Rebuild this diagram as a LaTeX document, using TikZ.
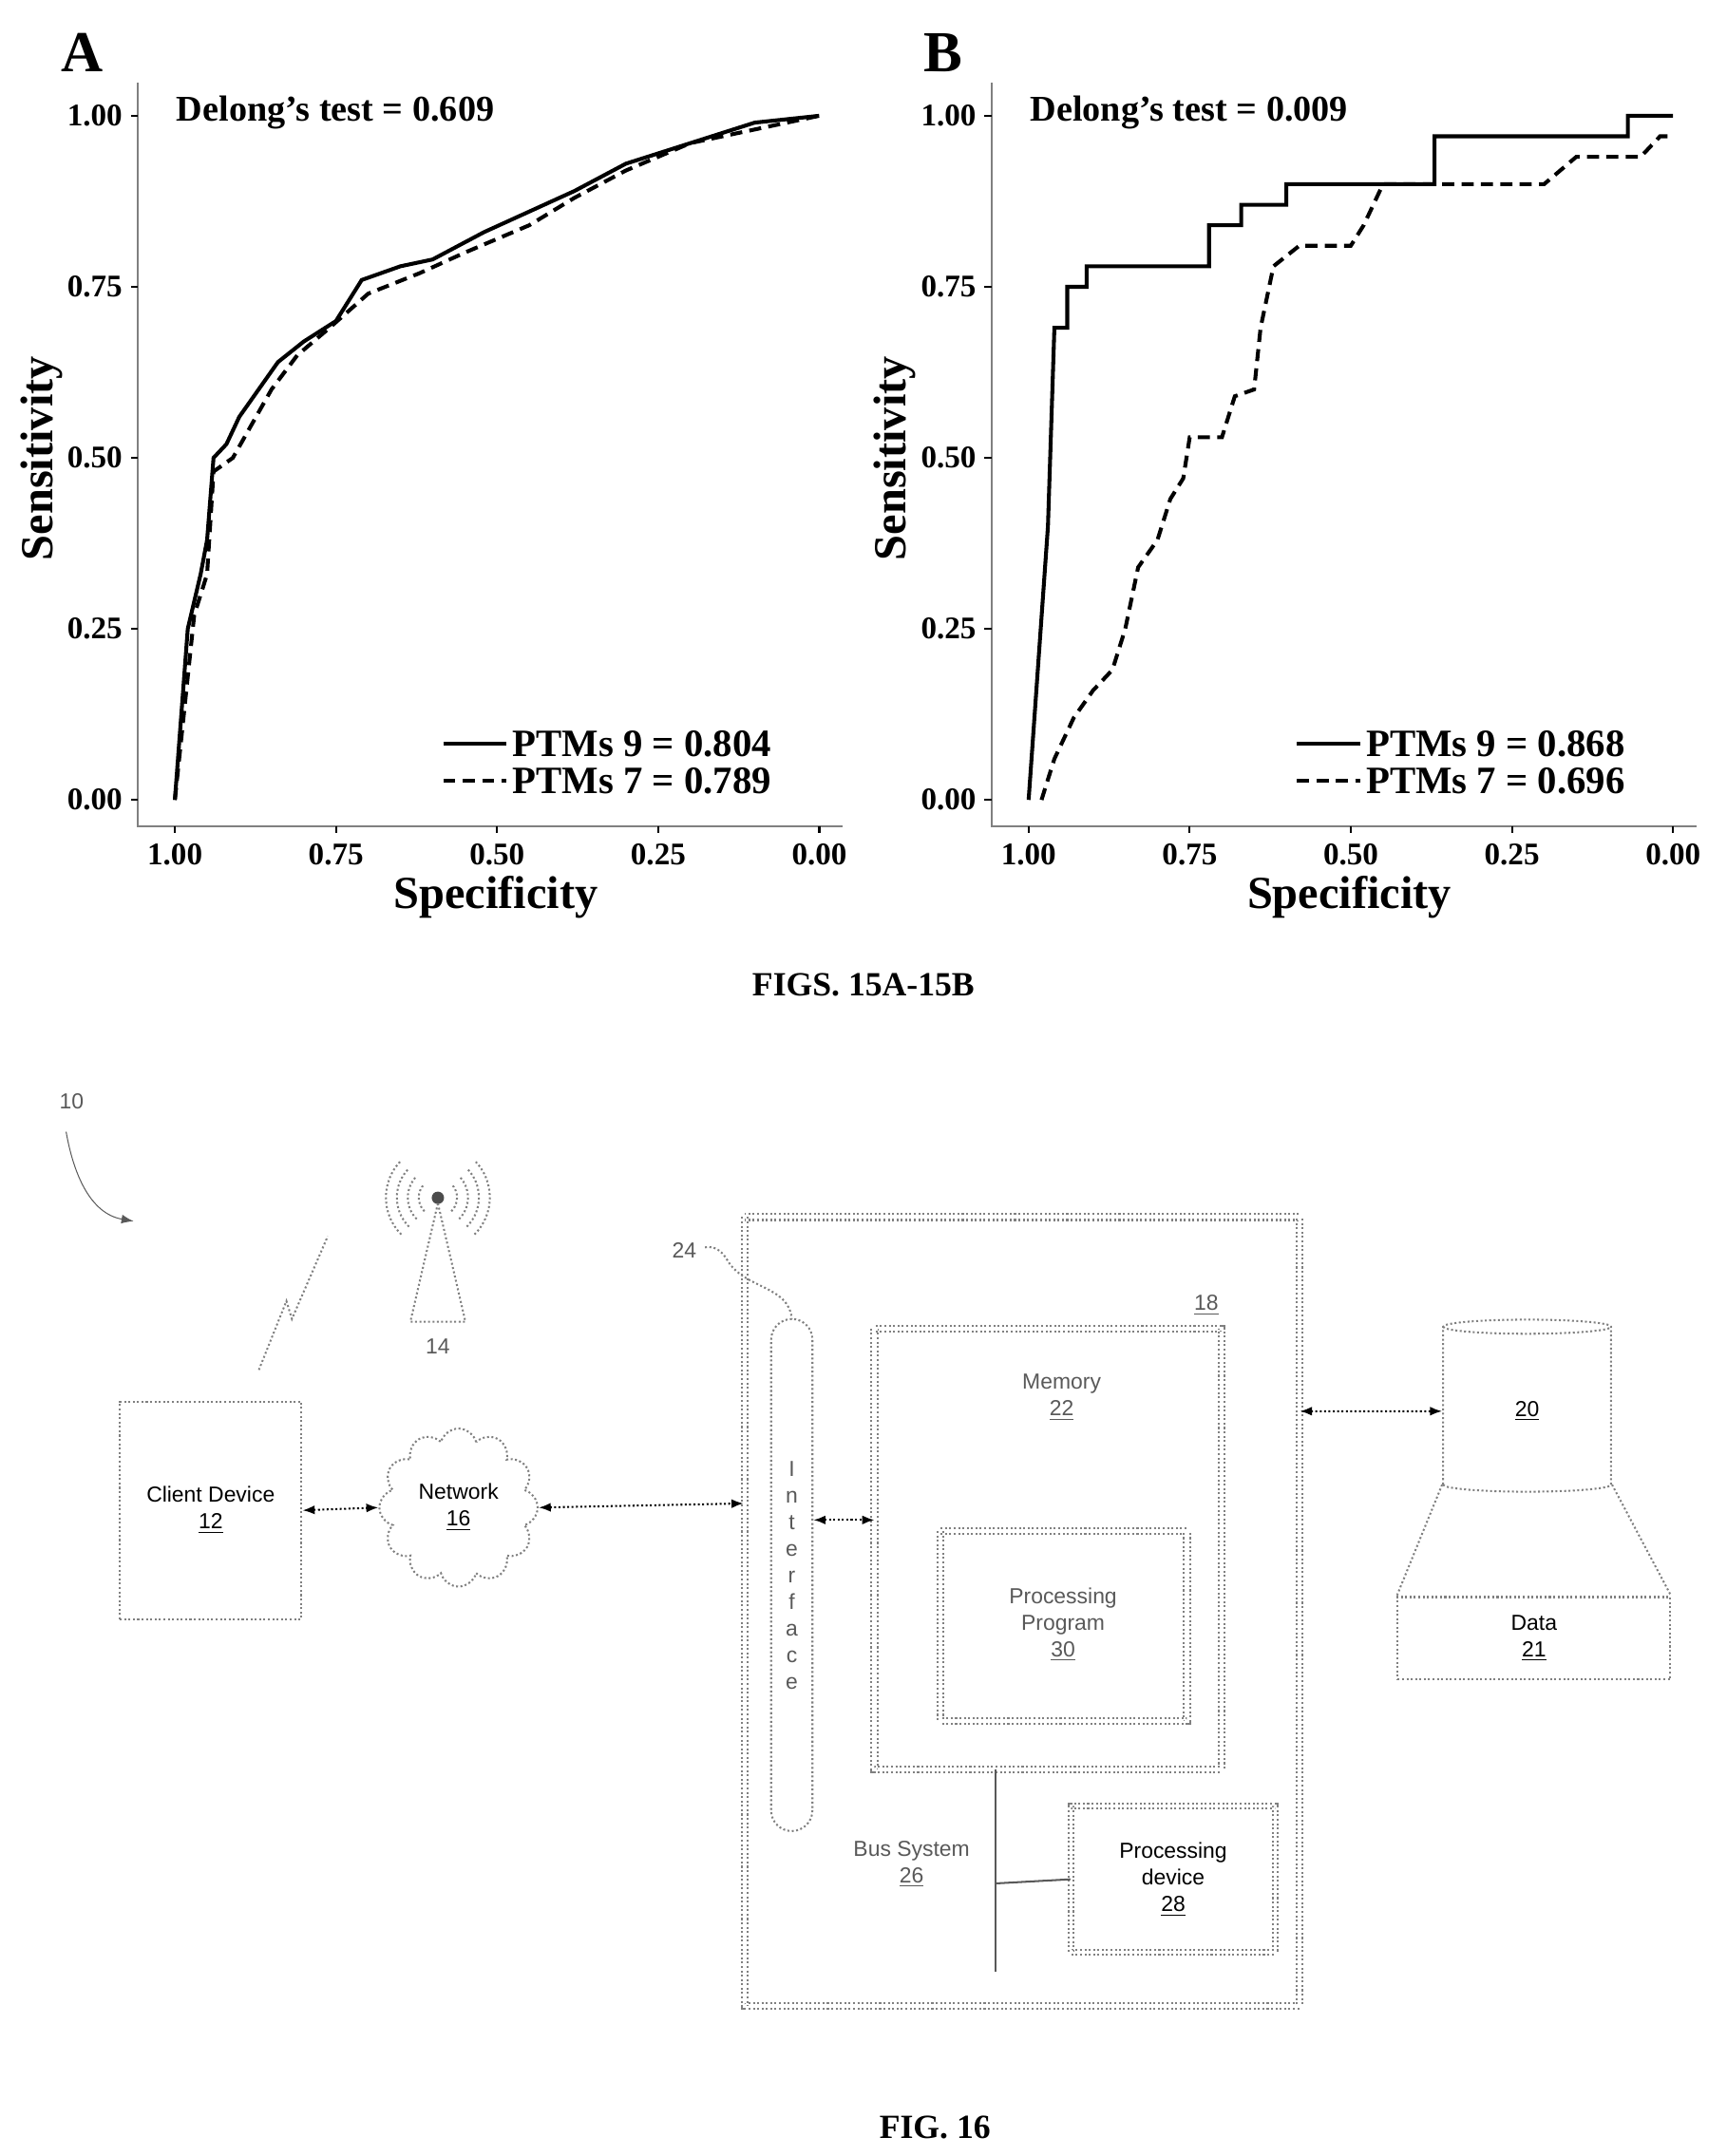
\documentclass[tikz,border=0pt]{standalone}
\usepackage{fontspec}
\setmainfont{Liberation Serif}
\newfontfamily\diagfont{Liberation Sans}
\usetikzlibrary{shapes.geometric,shapes.symbols,arrows.meta,positioning,calc}
\tikzset{
  tick/.style={font=\fontsize{13}{13}\selectfont\bfseries},
  axlab/.style={font=\fontsize{19}{19}\selectfont\bfseries},
  roc/.style={line width=1.6pt},
  rocd/.style={line width=1.6pt, dash pattern=on 5pt off 3pt},
  box/.style={draw=gray, densely dotted, thick, font=\diagfont\fontsize{9}{11}\selectfont, align=center},
  dbox/.style={draw=gray, densely dotted, double=white, double distance=1.6pt, thick},
  dtext/.style={font=\diagfont\fontsize{9}{11}\selectfont, text=gray!70!black, align=center},
  link/.style={{Latex[length=5pt]}-{Latex[length=5pt]}, thick, densely dotted},
}
\begin{document}
\begin{tikzpicture}[x=0.02cm, y=-0.02cm]
\useasboundingbox (0,0) rectangle (1254,1566);
% ---- plot frames
\foreach \ox/\lab/\lx in {0/A/60, 620/B/685} {
  \node[font=\fontsize{24}{24}\selectfont\bfseries] at (\lx,38) {\lab};
  \draw[gray, thick] (\ox+100,60) -- (\ox+100,600) -- (\ox+612,600);
  \foreach \v/\t/\s in {0/0.00/1.00, 0.25/0.25/0.75, 0.5/0.50/0.50, 0.75/0.75/0.25, 1/1.00/0.00} {
    \draw[thick] (\ox+95,581-\v*497) -- (\ox+100,581-\v*497);
    \node[tick, anchor=east] at (\ox+95,581-\v*497) {\t};
    \draw[thick] (\ox+127+\v*468,600) -- (\ox+127+\v*468,605);
    \node[tick, anchor=north] at (\ox+127+\v*468,607) {\s};
  }
  \node[axlab] at (\ox+360,652) {Specificity};
  \node[axlab, rotate=90] at (\ox+30,333) {Sensitivity};
}
\node[tick, font=\fontsize{15}{15}\selectfont\bfseries, anchor=west] at (122,82) {Delong's test = 0.609};
\node[tick, font=\fontsize{15}{15}\selectfont\bfseries, anchor=west] at (742,82) {Delong's test = 0.009};
% legends
\foreach \ox/\a/\b in {0/0.804/0.789, 620/0.868/0.696} {
  \draw[roc] (\ox+322,540) -- (\ox+368,540);
  \draw[rocd] (\ox+322,567) -- (\ox+368,567);
  \node[axlab, font=\fontsize{16}{16}\selectfont\bfseries, anchor=west] at (\ox+366,540) {PTMs 9 = \a};
  \node[axlab, font=\fontsize{16}{16}\selectfont\bfseries, anchor=west] at (\ox+366,567) {PTMs 7 = \b};
}
% ---- curves (spec, sens)
\begin{scope}[shift={(127,581)}, x=9.36cm, y=9.94cm]
  \draw[roc] plot coordinates {(0,0) (0.02,0.25) (0.04,0.33) (0.05,0.38) (0.06,0.5) (0.08,0.52) (0.1,0.56) (0.13,0.6) (0.16,0.64) (0.2,0.67) (0.25,0.7) (0.29,0.76) (0.35,0.78) (0.4,0.79) (0.48,0.83) (0.55,0.86) (0.62,0.89) (0.7,0.93) (0.8,0.96) (0.9,0.99) (1,1)};
  \draw[rocd] plot coordinates {(0,0) (0.03,0.27) (0.05,0.33) (0.06,0.48) (0.09,0.5) (0.12,0.55) (0.15,0.6) (0.19,0.65) (0.24,0.69) (0.3,0.74) (0.38,0.77) (0.45,0.8) (0.55,0.84) (0.62,0.88) (0.7,0.92) (0.8,0.96) (0.9,0.98) (1,1)};
\end{scope}
\begin{scope}[shift={(747,581)}, x=9.36cm, y=9.94cm]
  \draw[roc] plot coordinates {(0,0) (0.03,0.4) (0.04,0.69) (0.06,0.69) (0.06,0.75) (0.09,0.75) (0.09,0.78) (0.28,0.78) (0.28,0.84) (0.33,0.84) (0.33,0.87) (0.4,0.87) (0.4,0.9) (0.63,0.9) (0.63,0.97) (0.93,0.97) (0.93,1) (1,1)};
  \draw[rocd] plot coordinates {(0.02,0) (0.04,0.06) (0.07,0.12) (0.1,0.16) (0.13,0.19) (0.15,0.25) (0.17,0.34) (0.2,0.38) (0.22,0.44) (0.24,0.47) (0.25,0.53) (0.3,0.53) (0.32,0.59) (0.35,0.6) (0.36,0.69) (0.38,0.78) (0.42,0.81) (0.5,0.81) (0.52,0.84) (0.55,0.9) (0.8,0.9) (0.85,0.94) (0.95,0.94) (0.98,0.97) (1,0.97)};
\end{scope}
\node[font=\fontsize{14}{14}\selectfont\bfseries] (capA) at (627,715) {FIGS. 15A-15B};
% ---- FIG 16
\node[dtext] (ten) at (52,800) {10};
\draw[-{Latex[length=5pt]}, gray!70!black] (48,822) to[out=-80, in=170] (97,887);
% antenna
\coordinate (tip) at (318,870);
\fill[gray!60!black] (tip) circle (4.5);
\draw[box] (318,874) -- (298,960) -- (338,960) -- cycle;
\foreach \r in {14,22,30,38} {
  \draw[gray, densely dotted, thick] ($(tip)+(-0.7*\r,0.7*\r)$) arc (135:225:\r);
  \draw[gray, densely dotted, thick] ($(tip)+(0.7*\r,0.7*\r)$) arc (45:-45:\r);
}
\node[dtext] (fourteen) at (318,978) {14};
\draw[gray, densely dotted, thick] (188,995) -- (208,945) -- (212,958) -- (238,898);
% client and network
\node[box, minimum width=2.64cm, minimum height=3.16cm] (client) at (153,1097) {Client Device\\\underline{12}};
\node[box, cloud, cloud puffs=12, minimum width=2.3cm, minimum height=2.2cm] (network) at (333,1095) {Network\\\underline{16}};
% server
\draw[dbox] (541,884) rectangle (944,1457);
\node[box, rounded corners=0.3cm, minimum width=0.6cm, minimum height=7.44cm] (iface) at (575,1144) {};
\node[dtext] at (575,1144) {I\\n\\t\\e\\r\\f\\a\\c\\e};
\node[dtext] (twentyfour) at (497,908) {24};
\draw[gray, densely dotted, thick] (512,906) to[out=10, in=120] (528,915) to[out=-60, in=95] (575,958);
\draw[dbox] (635,965) rectangle (887,1285);
\node[dtext] (eighteen) at (876,948) {\underline{18}};
\node[dtext] (memory) at (771,1015) {Memory\\\underline{22}};
\draw[dbox] (683,1112) rectangle (862,1250);
\node[dtext] (prog) at (772,1180) {Processing\\Program\\\underline{30}};
\node[box, double, double distance=1.2pt, minimum width=2.96cm, minimum height=2.12cm] (pdev) at (852,1365) {Processing\\device\\\underline{28}};
\coordinate (busTop) at (723,1285);
\coordinate (busBot) at (723,1432);
\draw[gray!70!black, thick] (busTop) -- (busBot);
\draw[gray!70!black, thick] (723,1368) -- (pdev.west);
\node[dtext] (bus) at (662,1354) {Bus System\\\underline{26}};
% database
\node[box, cylinder, shape border rotate=90, aspect=0.35, minimum width=2.44cm, minimum height=2.5cm] (db) at (1109,1025) {\underline{20}};
\node[box, minimum width=3.96cm, minimum height=1.2cm] (data) at (1114,1190) {Data\\\underline{21}};
\draw[gray, densely dotted, thick] (db.after bottom) -- (data.north west);
\draw[gray, densely dotted, thick] (db.before bottom) -- (data.north east);
% links
\draw[link] (client.east) -- (network.west);
\draw[link] (network.east) -- (540,1092);
\draw[link] (iface.east |- 0,1104) -- (635,1104);
\draw[link] (944,1025) -- (db.west);
\node[font=\fontsize{14}{14}\selectfont\bfseries] (cap16) at (679,1545) {FIG. 16};
\end{tikzpicture}
\end{document}
